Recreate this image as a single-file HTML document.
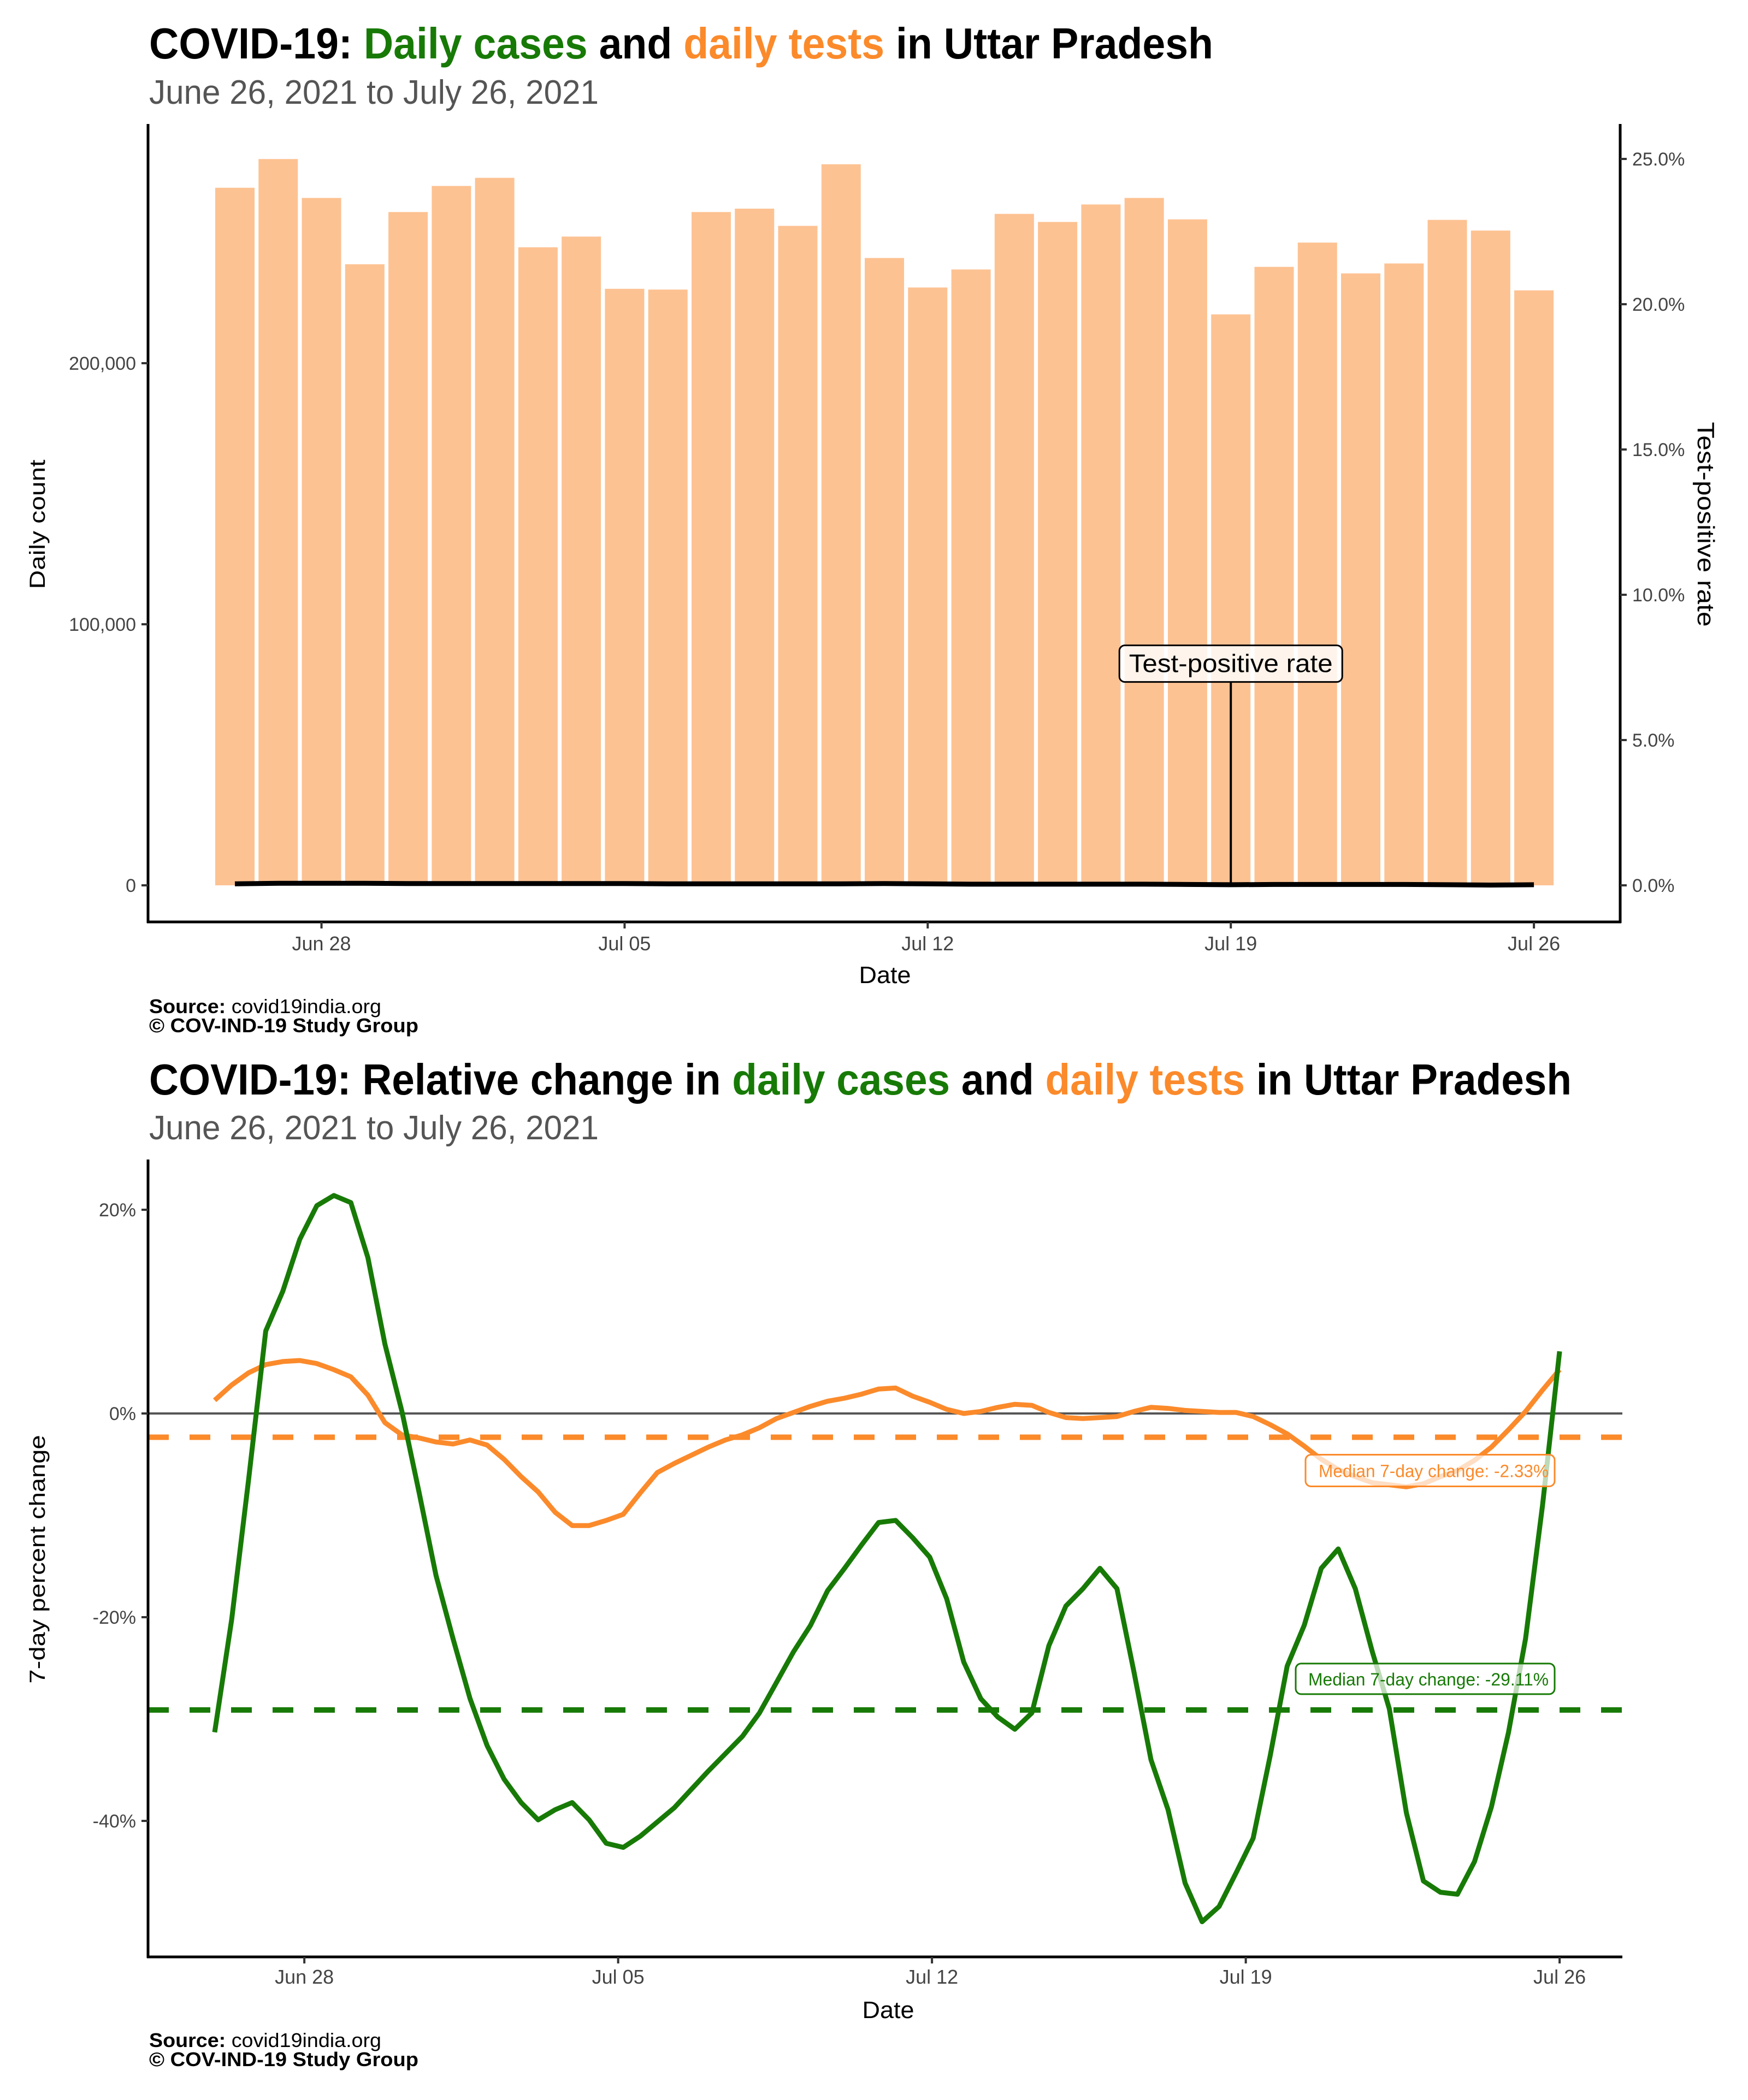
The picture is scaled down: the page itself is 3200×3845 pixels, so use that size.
<!DOCTYPE html>
<html><head><meta charset="utf-8"><style>
html,body{margin:0;padding:0;background:#fff}
svg text{font-family:"Liberation Sans",sans-serif}
</style></head><body>
<svg id="svg" width="3200" height="3840" viewBox="0 0 3200 3840" xmlns="http://www.w3.org/2000/svg">
<rect width="3200" height="3840" fill="#fff"/>
<!-- Top chart titles -->
<text x="273" y="107" font-size="80" font-weight="bold" textLength="1948" lengthAdjust="spacingAndGlyphs">COVID-19: <tspan fill="#177a06">Daily cases</tspan> and <tspan fill="#fb8a2b">daily tests</tspan> in Uttar Pradesh</text>
<text x="273" y="190" font-size="62" fill="#555" textLength="823" lengthAdjust="spacingAndGlyphs">June 26, 2021 to July 26, 2021</text>
<g id="top"></g>
<text x="1620" y="1800" font-size="44" text-anchor="middle" textLength="95" lengthAdjust="spacingAndGlyphs">Date</text>
<text transform="translate(82,960) rotate(-90)" font-size="40" text-anchor="middle" textLength="237" lengthAdjust="spacingAndGlyphs">Daily count</text>
<text transform="translate(3108,960) rotate(90)" font-size="44" text-anchor="middle" textLength="375" lengthAdjust="spacingAndGlyphs">Test-positive rate</text>
<text x="273" y="1855" font-size="36" textLength="425" lengthAdjust="spacingAndGlyphs"><tspan font-weight="bold">Source:</tspan> covid19india.org</text>
<text x="273" y="1890" font-size="36" font-weight="bold" textLength="493" lengthAdjust="spacingAndGlyphs">© COV-IND-19 Study Group</text>

<!-- Bottom chart titles -->
<text x="273" y="2004" font-size="80" font-weight="bold" textLength="2604" lengthAdjust="spacingAndGlyphs">COVID-19: Relative change in <tspan fill="#177a06">daily cases</tspan> and <tspan fill="#fb8a2b">daily tests</tspan> in Uttar Pradesh</text>
<text x="273" y="2086" font-size="62" fill="#555" textLength="823" lengthAdjust="spacingAndGlyphs">June 26, 2021 to July 26, 2021</text>
<g id="bot"></g>
<text x="1626" y="3695" font-size="44" text-anchor="middle" textLength="95" lengthAdjust="spacingAndGlyphs">Date</text>
<text transform="translate(82,2855) rotate(-90)" font-size="40" text-anchor="middle" textLength="455" lengthAdjust="spacingAndGlyphs">7-day percent change</text>
<text x="273" y="3748" font-size="36" textLength="425" lengthAdjust="spacingAndGlyphs"><tspan font-weight="bold">Source:</tspan> covid19india.org</text>
<text x="273" y="3783" font-size="36" font-weight="bold" textLength="493" lengthAdjust="spacingAndGlyphs">© COV-IND-19 Study Group</text>
</svg>
<script>
// ---- Top chart data ----
const topDates = ["Jun 26","Jun 27","Jun 28","Jun 29","Jun 30","Jul 01","Jul 02","Jul 03","Jul 04","Jul 05","Jul 06","Jul 07","Jul 08","Jul 09","Jul 10","Jul 11","Jul 12","Jul 13","Jul 14","Jul 15","Jul 16","Jul 17","Jul 18","Jul 19","Jul 20","Jul 21","Jul 22","Jul 23","Jul 24","Jul 25","Jul 26"];
const dailyTests = [267200,278200,263300,237900,257900,267900,271000,244400,248500,228500,228200,257900,259200,252600,276200,240300,229000,235900,257200,254100,260800,263300,255100,218700,236900,246200,234400,238200,254900,250800,227900];
const tprValues = [0.05,0.07,0.07,0.07,0.06,0.06,0.06,0.06,0.06,0.06,0.05,0.05,0.05,0.05,0.05,0.06,0.05,0.04,0.04,0.04,0.04,0.04,0.03,0.02,0.03,0.03,0.03,0.03,0.02,0.01,0.02];
const topLeftTicks = [0,100000,200000];
const topLeftTickLabels = ["0","100,000","200,000"];
const topRightTicks = [0,5,10,15,20,25];
const topRightTickLabels = ["0.0%","5.0%","10.0%","15.0%","20.0%","25.0%"];
const topXTickIdx = [2,9,16,23,30];
const topXTickLabels = ["Jun 28","Jul 05","Jul 12","Jul 19","Jul 26"];
const tprAnnotIdx = 23;
const tprAnnotValue = 7.0;

// ---- Bottom chart data ----
const casesChange = [-31.3,-20.2,-6.4,8.1,12.0,17.1,20.4,21.4,20.7,15.3,6.8,0.2,-7.7,-15.9,-22.1,-28.0,-32.6,-35.9,-38.2,-39.9,-38.9,-38.2,-39.9,-42.2,-42.6,-41.5,-40.1,-38.7,-36.9,-35.1,-33.4,-31.7,-29.4,-26.4,-23.4,-20.8,-17.4,-15.2,-12.9,-10.7,-10.5,-12.2,-14.1,-18.2,-24.4,-28.0,-29.8,-31.0,-29.4,-22.8,-18.9,-17.2,-15.2,-17.2,-25.4,-34.0,-38.9,-46.1,-49.9,-48.4,-45.1,-41.7,-33.6,-24.8,-20.8,-15.2,-13.3,-17.2,-23.4,-29.0,-39.2,-45.9,-47.0,-47.2,-44.0,-38.6,-31.3,-22.1,-9.0,6.1];
const testsChange = [1.3,2.8,4.0,4.8,5.1,5.2,4.9,4.3,3.6,1.8,-0.9,-2.1,-2.4,-2.8,-3.0,-2.6,-3.1,-4.5,-6.2,-7.7,-9.7,-11.0,-11.0,-10.5,-9.9,-7.8,-5.8,-4.9,-4.1,-3.3,-2.6,-2.1,-1.4,-0.5,0.1,0.7,1.2,1.5,1.9,2.4,2.5,1.7,1.1,0.4,0.0,0.2,0.6,0.9,0.8,0.1,-0.4,-0.5,-0.4,-0.3,0.2,0.6,0.5,0.3,0.2,0.1,0.1,-0.3,-1.1,-2.0,-3.2,-4.5,-5.5,-6.2,-6.8,-7.0,-7.2,-6.9,-6.2,-5.6,-4.6,-3.3,-1.6,0.2,2.3,4.3];
const seriesSpanDays = 30;
const medianCases = -29.11;
const medianTests = -2.33;
const botYTicks = [-40,-20,0,20];
const botYTickLabels = ["-40%","-20%","0%","20%"];
const botXTickDays = [2,9,16,23,30];
const botXTickLabels = ["Jun 28","Jul 05","Jul 12","Jul 19","Jul 26"];

const NS = "http://www.w3.org/2000/svg";
function mk(parent, tag, attrs, text){
  const e = document.createElementNS(NS, tag);
  for (const k in attrs) e.setAttribute(k, attrs[k]);
  if (text !== undefined) e.textContent = text;
  parent.appendChild(e);
  return e;
}
const GREEN = "#177a06", ORANGE = "#fb8a2b", BAR = "#fdc292";

// ---------- TOP ----------
const T = document.getElementById('top');
const tL = 271, tR = 2966, tTop = 227, tBot = 1688;
const xTop = i => 430 + i * 79.27;
const yCount = v => 1621 - v * 478 / 100000;
const yRate = p => 1621 - p * 53.2;

dailyTests.forEach((v, i) => {
  const r = mk(T, 'rect', {x: xTop(i) - 36, y: yCount(v), width: 72, height: yCount(0) - yCount(v), fill: BAR});
  
  
});
{
  const pts = tprValues.map((p, i) => xTop(i).toFixed(1) + ',' + yRate(p).toFixed(1)).join(' ');
  const pl = mk(T, 'polyline', {points: pts, fill: 'none', stroke: '#000', 'stroke-width': 9, 'stroke-linejoin': 'round'});
  
  
}
{
  const ax = xTop(tprAnnotIdx);
  const ln = mk(T, 'line', {x1: ax, x2: ax, y1: yRate(tprAnnotValue), y2: yRate(tprValues[tprAnnotIdx]), stroke: '#000', 'stroke-width': 4});
  
  
  const by = yRate(tprAnnotValue);
  const bx = mk(T, 'rect', {x: ax - 204, y: by - 67, width: 408, height: 67, rx: 10, fill: '#fff', 'fill-opacity': 0.82, stroke: '#000', 'stroke-width': 3});
  
  
  const tx = mk(T, 'text', {x: ax, y: by - 18, 'font-size': 46, 'text-anchor': 'middle', textLength: 373, lengthAdjust: 'spacingAndGlyphs'}, 'Test-positive rate');
  
  
}
// axes
{
  const a1 = mk(T, 'line', {x1: tL, x2: tL, y1: tTop, y2: tBot + 2, stroke: '#000', 'stroke-width': 5});
   
  const a2 = mk(T, 'line', {x1: tR, x2: tR, y1: tTop, y2: tBot + 2, stroke: '#000', 'stroke-width': 5});
   
  const a3 = mk(T, 'line', {x1: tL - 2, x2: tR + 2, y1: tBot, y2: tBot, stroke: '#000', 'stroke-width': 5});
   
}
topLeftTicks.forEach((v, i) => {
  const y = yCount(v);
  mk(T, 'line', {x1: tL - 12, x2: tL, y1: y, y2: y, stroke: '#333', 'stroke-width': 4});
  const t = mk(T, 'text', {x: tL - 22, y: y + 12, 'font-size': 34, fill: '#444', 'text-anchor': 'end'}, topLeftTickLabels[i]);
  
  
});
topRightTicks.forEach((p, i) => {
  const y = yRate(p);
  mk(T, 'line', {x1: tR, x2: tR + 12, y1: y, y2: y, stroke: '#333', 'stroke-width': 4});
  const t = mk(T, 'text', {x: tR + 22, y: y + 12, 'font-size': 34, fill: '#444'}, topRightTickLabels[i]);
  
  
});
topXTickIdx.forEach((d, i) => {
  const x = xTop(d);
  mk(T, 'line', {x1: x, x2: x, y1: tBot, y2: tBot + 12, stroke: '#333', 'stroke-width': 4});
  const t = mk(T, 'text', {x: x, y: 1740, 'font-size': 36, fill: '#444', 'text-anchor': 'middle'}, topXTickLabels[i]);
  
  
});

// ---------- BOTTOM ----------
const B = document.getElementById('bot');
const bL = 271, bR = 2970, bTop = 2123, bBot = 3583;
const xBot = d => 393 + d * 82.07;
const yPct = v => 2588 - v * 18.65;
const dayOf = (i, n) => i * seriesSpanDays / (n - 1);

{
  const z = mk(B, 'line', {x1: bL, x2: bR, y1: yPct(0), y2: yPct(0), stroke: '#555', 'stroke-width': 4});
   
  const m1 = mk(B, 'line', {x1: bL, x2: bR, y1: yPct(medianTests), y2: yPct(medianTests), stroke: ORANGE, 'stroke-width': 10, 'stroke-dasharray': '38 38'});
   
  const m2 = mk(B, 'line', {x1: bL, x2: bR, y1: yPct(medianCases), y2: yPct(medianCases), stroke: GREEN, 'stroke-width': 10, 'stroke-dasharray': '38 38'});
   
}
{
  const p1 = testsChange.map((v, i) => xBot(dayOf(i, testsChange.length)).toFixed(1) + ',' + yPct(v).toFixed(1)).join(' ');
  const l1 = mk(B, 'polyline', {points: p1, fill: 'none', stroke: ORANGE, 'stroke-width': 9, 'stroke-linejoin': 'round'});
   
  const p2 = casesChange.map((v, i) => xBot(dayOf(i, casesChange.length)).toFixed(1) + ',' + yPct(v).toFixed(1)).join(' ');
  const l2 = mk(B, 'polyline', {points: p2, fill: 'none', stroke: GREEN, 'stroke-width': 9, 'stroke-linejoin': 'round'});
   
}
// median labels
{
  const oy = yPct(medianTests) + 32;
  const ob = mk(B, 'rect', {x: 2390, y: oy, width: 456, height: 58, rx: 10, fill: '#fff', 'fill-opacity': 0.72, stroke: ORANGE, 'stroke-width': 3});
   
  const ot = mk(B, 'text', {x: 2835, y: oy + 41, 'font-size': 32, fill: ORANGE, 'text-anchor': 'end', textLength: 421, lengthAdjust: 'spacingAndGlyphs'}, 'Median 7-day change: -2.33%');
   
  const gy = yPct(medianCases) - 85;
  const gb = mk(B, 'rect', {x: 2372, y: gy, width: 474, height: 56, rx: 10, fill: '#fff', 'fill-opacity': 0.72, stroke: GREEN, 'stroke-width': 3});
   
  const gt = mk(B, 'text', {x: 2835, y: gy + 40, 'font-size': 32, fill: GREEN, 'text-anchor': 'end', textLength: 440, lengthAdjust: 'spacingAndGlyphs'}, 'Median 7-day change: -29.11%');
   
}
{
  const a1 = mk(B, 'line', {x1: bL, x2: bL, y1: bTop, y2: bBot + 2, stroke: '#000', 'stroke-width': 5});
   
  const a3 = mk(B, 'line', {x1: bL - 2, x2: bR, y1: bBot, y2: bBot, stroke: '#000', 'stroke-width': 5});
   
}
botYTicks.forEach((v, i) => {
  const y = yPct(v);
  mk(B, 'line', {x1: bL - 12, x2: bL, y1: y, y2: y, stroke: '#333', 'stroke-width': 4});
  const t = mk(B, 'text', {x: bL - 22, y: y + 12, 'font-size': 34, fill: '#444', 'text-anchor': 'end'}, botYTickLabels[i]);
  
  
});
botXTickDays.forEach((d, i) => {
  const x = xBot(d);
  mk(B, 'line', {x1: x, x2: x, y1: bBot, y2: bBot + 12, stroke: '#333', 'stroke-width': 4});
  const t = mk(B, 'text', {x: x, y: 3632, 'font-size': 36, fill: '#444', 'text-anchor': 'middle'}, botXTickLabels[i]);
  
  
});
</script>
</body></html>
